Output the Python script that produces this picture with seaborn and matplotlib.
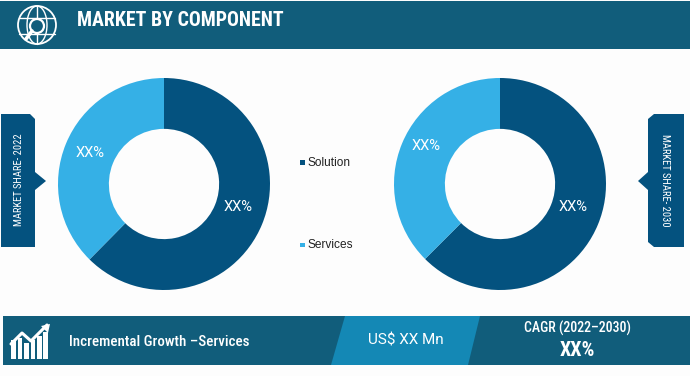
import matplotlib
matplotlib.use("Agg")
import matplotlib.pyplot as plt
import seaborn as sns
from matplotlib.patches import Polygon, Rectangle, Circle, Arc

# ==== data ====
components = ["Solution", "Services"]
share_2022 = [62.4, 37.6]
share_2030 = [62.5, 37.5]
pie_labels = ["XX%", "XX%"]
title_text = "MARKET BY COMPONENT"
growth_text = "Incremental Growth \u2013Services"
value_text = "US$ XX Mn"
cagr_text = "CAGR (2022\u20132030)"
cagr_value = "XX%"

DARK = "#04527f"
LIGHT = "#35b0e6"
BAND = "#115d7b"
MID = "#1488b5"
BG = "#fdfdfd"
NARROW = ["Roboto Condensed", "DejaVu Sans"]

sns.set_theme(style="white")
palette = sns.color_palette([DARK, LIGHT])

W, H = 690, 376
fig = plt.figure(figsize=(W / 100, H / 100), dpi=100, facecolor=BG)

# full figure axes in pixel coords
bg = fig.add_axes([0, 0, 1, 1], zorder=0)
bg.set_xlim(0, W)
bg.set_ylim(H, 0)
bg.axis("off")


def draw_donut(values, cx, cy, r, hole, label_px):
    ax = fig.add_axes([(cx - r) / W, 1 - (cy + r) / H, 2 * r / W, 2 * r / H], zorder=1)
    wedges, _, auto = ax.pie(values, colors=palette, startangle=90, counterclock=False,
                             radius=1, autopct="%.0f", pctdistance=0.74,
                             wedgeprops={"width": 1 - hole, "edgecolor": "none"})
    for t, lab, (px, py) in zip(auto, pie_labels, label_px):
        t.set_text(lab)
        t.set_color("white")
        t.set_fontsize(10.5)
        t.set_fontfamily(["Roboto", "DejaVu Sans"])
        t.set_position(((px - cx) / r, (cy - py) / r))
    ax.set_xlim(-1, 1)
    ax.set_ylim(-1, 1)
    ax.axis("off")
    return ax


draw_donut(share_2022, 164, 184, 106, 0.52, [(238, 207), (90, 153)])
draw_donut(share_2030, 500, 184, 106, 0.52, [(573, 207), (426, 146)])

# header band
bg.add_patch(Rectangle((0, 1), W, 48, fc=BAND, ec="none"))
bg.text(77, 21, title_text, color="white", fontsize=14.3, fontweight="bold",
        family=NARROW, va="center", ha="left")

# globe icon
bg.add_patch(Circle((37, 25), 19, fc="none", ec="white", lw=1.3))
bg.add_patch(Arc((37, 25), 20, 38, fc="none", ec="white", lw=1))
bg.plot([37, 37], [6, 44], color="white", lw=1)
bg.plot([19, 55], [18, 18], color="white", lw=1)
bg.plot([19, 55], [34, 34], color="white", lw=1)
bg.add_patch(Circle((37, 26), 7, fc=BAND, ec="white", lw=1.6, zorder=3))
bg.plot([32, 26], [31, 39], color="white", lw=2.6, zorder=3)

# side tags
left_tag = [(1, 114), (30, 114), (35, 119), (35, 172), (46, 181), (35, 190), (35, 247), (1, 247)]
right_tag = [(684, 114), (654, 114), (648, 119), (648, 172), (638, 181), (648, 190), (648, 242), (654, 247), (684, 247)]
bg.add_patch(Polygon(left_tag, fc=DARK, ec="none"))
bg.add_patch(Polygon(right_tag, fc=DARK, ec="none"))
bg.text(19, 180, "MARKET SHARE- 2022", color="white", fontsize=7.6, family=NARROW,
        rotation=90, ha="center", va="center")
bg.text(665, 180, "MARKET SHARE- 2030", color="white", fontsize=7.6, family=NARROW,
        rotation=270, ha="center", va="center")

# legend
for name, col, y in zip(components, palette, [162.5, 245]):
    bg.add_patch(Rectangle((300, y - 2.5), 4.5, 4.5, fc=col, ec="none"))
    bg.text(308, y + 0.5, name, color="#222222", fontsize=8.6, family=["Liberation Sans", "DejaVu Sans"],
            va="center", ha="left")

# bottom band
bg.add_patch(Rectangle((3, 316), W - 3, 49, fc=BAND, ec="none"))
bg.add_patch(Polygon([(345, 316), (480, 316), (468, 365), (331, 365)], fc=MID, ec="none"))
bg.text(69, 341.5, growth_text, color="white", fontsize=10.8, fontweight="medium",
        family=NARROW, va="center", ha="left")
bg.text(406, 341, value_text, color="white", fontsize=11, family=["Roboto", "DejaVu Sans"],
        va="center", ha="center")
bg.text(577, 328, cagr_text, color="white", fontsize=10, family=NARROW, fontweight="medium",
        va="center", ha="center")
bg.text(577, 350, cagr_value, color="white", fontsize=14.5, family=NARROW, fontweight="bold",
        va="center", ha="center")

# growth chart icon
for x, top in zip([11, 17.5, 24, 30.5, 37, 43], [340, 338, 343, 340, 336, 332]):
    bg.add_patch(Rectangle((x, top), 4.6, 359 - top, fc="white", ec="none"))
bg.plot([11, 22, 31, 47], [344, 333, 341, 325], color="white", lw=2.2)
bg.add_patch(Polygon([(50, 324), (41, 326), (48, 333)], fc="white", ec="none"))

fig.savefig("out.png", dpi=100, facecolor=BG)
